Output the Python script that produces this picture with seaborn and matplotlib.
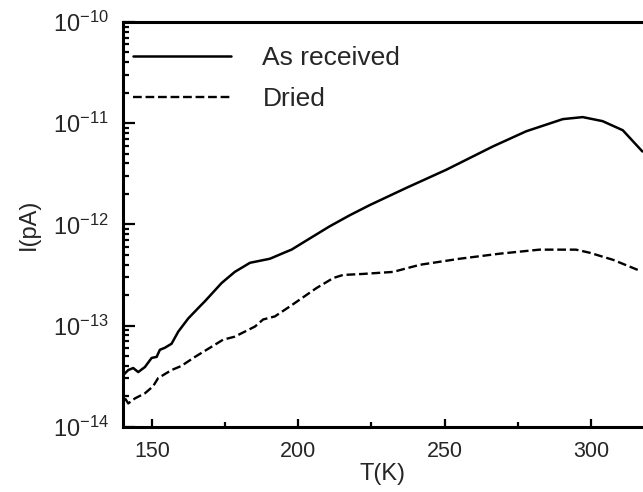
import numpy as np
import pandas as pd
import seaborn as sns
import matplotlib.pyplot as plt
from matplotlib.ticker import MultipleLocator, LogLocator, NullFormatter, FixedLocator

# Valeurs (log10 du courant)
T_recu = [140.2, 141.9, 143.6, 145.3, 147.6, 149.9, 151.6, 152.7, 154.4, 156.7,
          159.0, 162.4, 166.4, 168.1, 173.8, 178.3, 183.5, 190.3, 196.0, 197.7,
          203.9, 210.7, 217.6, 224.4, 236.9, 250.6, 266.5, 277.9, 290.4, 297.2,
          304.0, 310.9, 317.6]
logI_recu = [-13.49, -13.44, -13.42, -13.46, -13.41, -13.32, -13.31, -13.24, -13.22, -13.18,
             -13.06, -12.93, -12.81, -12.76, -12.58, -12.47, -12.38, -12.34, -12.27, -12.25,
             -12.14, -12.02, -11.91, -11.81, -11.64, -11.46, -11.23, -11.08, -10.96, -10.94,
             -10.98, -11.07, -11.28]

T_seche = [140.8, 141.9, 144.2, 147.6, 150.4, 152.1, 156.7, 160.0, 164.7, 171.5,
           174.3, 178.3, 185.2, 188.0, 192.0, 197.7, 200.7, 206.2, 212.0, 215.3,
           222.1, 232.4, 241.5, 255.1, 268.8, 282.4, 294.9, 299.5, 307.5, 316.0]
logI_seche = [-13.72, -13.77, -13.72, -13.67, -13.60, -13.52, -13.44, -13.40, -13.31, -13.19,
              -13.14, -13.11, -13.01, -12.94, -12.91, -12.80, -12.74, -12.63, -12.53, -12.50,
              -12.49, -12.47, -12.40, -12.34, -12.29, -12.25, -12.25, -12.28, -12.35, -12.45]

yticks = [1e-14, 1e-13, 1e-12, 1e-11, 1e-10]

df_recu = pd.DataFrame({'T': T_recu, 'I': np.power(10.0, logI_recu)})
df_seche = pd.DataFrame({'T': T_seche, 'I': np.power(10.0, logI_seche)})

sns.set_style('ticks')
plt.rcParams['font.family'] = ['Liberation Sans', 'DejaVu Sans']
plt.rcParams['mathtext.fontset'] = 'custom'
plt.rcParams['mathtext.rm'] = 'Liberation Sans'
plt.rcParams['mathtext.it'] = 'Liberation Sans:italic'

fig = plt.figure(figsize=(6.43, 4.92), dpi=100)
ax = fig.add_axes([0.1908, 0.1327, 0.8092, 0.8226])

sns.lineplot(data=df_recu, x='T', y='I', ax=ax, color='black', lw=1.8,
             label='As received', sort=False)
sns.lineplot(data=df_seche, x='T', y='I', ax=ax, color='black', lw=1.7,
             linestyle='--', dashes=(4.3, 2.4), label='Dried', sort=False)

ax.set_yscale('log')
ax.set_xlim(140, 317.8)
ax.set_ylim(1e-14, 1e-10)

ax.xaxis.set_major_locator(MultipleLocator(50))
ax.xaxis.set_minor_locator(MultipleLocator(25))
ax.yaxis.set_major_locator(FixedLocator(yticks))
ax.yaxis.set_minor_locator(LogLocator(base=10, subs=np.arange(2, 10), numticks=20))
ax.yaxis.set_minor_formatter(NullFormatter())

ax.tick_params(axis='both', which='both', direction='in', top=False, right=False,
               width=1.6, color='black')
ax.tick_params(axis='x', which='major', length=6, pad=10, labelsize=15.5)
ax.tick_params(axis='x', which='minor', length=3.5)
ax.tick_params(axis='y', which='major', length=8.5, pad=10, labelsize=17)
ax.tick_params(axis='y', which='minor', length=4.5)

for s in ['left', 'bottom', 'top']:
    ax.spines[s].set_linewidth(2.2)
    ax.spines[s].set_color('black')
ax.spines['right'].set_visible(False)

ax.set_xlabel('T(K)', fontsize=17, labelpad=1)
ax.set_ylabel('I(pA)', fontsize=17, labelpad=9)

ax.legend(loc='upper left', bbox_to_anchor=(0.02, 0.94), frameon=False,
          fontsize=19, handlelength=3.7, handletextpad=1.2, labelspacing=0.65,
          borderpad=0, borderaxespad=0)

fig.savefig('out.png', dpi=100)
